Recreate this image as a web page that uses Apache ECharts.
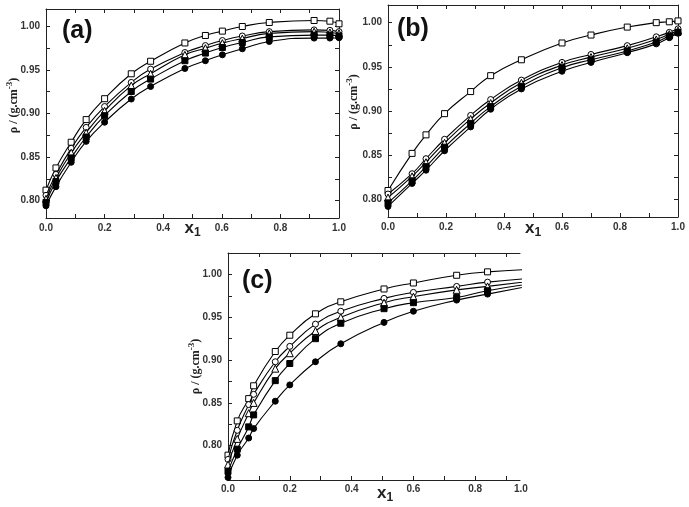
<!DOCTYPE html>
<html>
<head>
<meta charset="utf-8">
<script src="https://cdn.jsdelivr.net/npm/echarts@6/dist/echarts.min.js"></script>
<style>
html,body{margin:0;padding:0;background:#fff;}
#chart{width:689px;height:507px;}
</style>
</head>
<body>
<div id="chart"></div>
<script>
// ---------- data ----------
const xA = [0, 0.034, 0.086, 0.137, 0.2, 0.291, 0.357, 0.474, 0.544, 0.602, 0.67, 0.762, 0.915, 0.969, 1.0];
const aSq = [0.812, 0.8375, 0.867, 0.893, 0.917, 0.9456, 0.960, 0.981, 0.9896, 0.9946, 0.9999, 1.0045, 1.0068, 1.006, 1.003];
const aCi = [0.806, 0.830, 0.860, 0.884, 0.908, 0.9357, 0.951, 0.970, 0.978, 0.9838, 0.989, 0.994, 0.996, 0.9955, 0.994];
const aTr = [0.802, 0.826, 0.855, 0.878, 0.903, 0.932, 0.9456, 0.9674, 0.975, 0.9808, 0.986, 0.992, 0.994, 0.993, 0.992];
const aFs = [0.798, 0.822, 0.849, 0.873, 0.8975, 0.9253, 0.9395, 0.9606, 0.9694, 0.9758, 0.9815, 0.988, 0.990, 0.990, 0.989];
const aFc = [0.794, 0.816, 0.844, 0.868, 0.890, 0.9166, 0.931, 0.9517, 0.9606, 0.9674, 0.9743, 0.9827, 0.9866, 0.9866, 0.987];

const xB = [0, 0.083, 0.131, 0.195, 0.285, 0.354, 0.46, 0.6, 0.7, 0.825, 0.925, 0.97, 1.0];
const bSq = [0.810, 0.852, 0.873, 0.897, 0.922, 0.940, 0.958, 0.977, 0.986, 0.995, 1.000, 1.001, 1.002];
const bCi = [0.806, 0.829, 0.846, 0.868, 0.895, 0.913, 0.935, 0.955, 0.964, 0.974, 0.984, 0.989, 0.993];
const bTr = [0.802, 0.826, 0.842, 0.864, 0.891, 0.909, 0.932, 0.952, 0.961, 0.971, 0.981, 0.987, 0.991];
const bFs = [0.796, 0.821, 0.837, 0.859, 0.886, 0.905, 0.928, 0.949, 0.958, 0.968, 0.978, 0.985, 0.989];
const bFc = [0.792, 0.818, 0.833, 0.855, 0.882, 0.902, 0.925, 0.945, 0.955, 0.966, 0.976, 0.983, 0.988];

const xC = [0, 0.03, 0.067, 0.083, 0.153, 0.2, 0.283, 0.365, 0.505, 0.6, 0.74, 0.84, 1.0];
const cSq = [0.789, 0.829, 0.855, 0.870, 0.910, 0.929, 0.954, 0.968, 0.983, 0.990, 0.999, 1.003, 1.006];
const cCi = [0.784, 0.818, 0.848, 0.860, 0.898, 0.916, 0.942, 0.957, 0.972, 0.979, 0.986, 0.991, 0.996];
const cTr = [0.778, 0.808, 0.838, 0.850, 0.890, 0.908, 0.934, 0.950, 0.967, 0.974, 0.982, 0.986, 0.993];
const cFs = [0.770, 0.796, 0.822, 0.836, 0.876, 0.896, 0.925, 0.943, 0.960, 0.967, 0.973, 0.981, 0.990];
const cFc = [0.763, 0.789, 0.809, 0.820, 0.852, 0.871, 0.898, 0.919, 0.944, 0.957, 0.970, 0.977, 0.988];

const xTickLabels = [0, 0.2, 0.4, 0.6, 0.8, 1.0];
const yTickLabels = [0.80, 0.85, 0.90, 0.95, 1.00];

// ---------- styling helpers ----------
const markerDefs = [
  {symbol: 'rect', fill: '#fff'},
  {symbol: 'circle', fill: '#fff'},
  {symbol: 'triangle', fill: '#fff'},
  {symbol: 'rect', fill: '#000'},
  {symbol: 'circle', fill: '#000'}
];
const labelFont = {fontFamily: 'Liberation Sans, Arial, sans-serif', fontWeight: 'bold', fontSize: 10, color: '#333'};
const axisCol = '#222';

function yTicks(min, max) {
  const t = [];
  for (let v = Math.ceil(min / 0.025 - 1e-9) * 0.025; v <= max + 1e-9; v += 0.025) t.push(+v.toFixed(3));
  return t;
}
function xTicks(max) {
  const t = [];
  for (let i = 0; i <= 10; i++) { const v = i / 10; if (v <= max + 1e-9) t.push(v); }
  return t;
}

const grids = [], xAxes = [], yAxes = [], series = [];
function addPanel(idx, gridPos, xMax, yMin, yMax, xs, ys, opt) {
  grids.push(Object.assign({outerBoundsMode: 'none', containLabel: false}, gridPos));
  const gi = idx;
  const xt = xTicks(xMax);
  xAxes.push({
    gridIndex: gi, type: 'value', min: 0, max: xMax, position: 'bottom',
    axisLine: {show: true, onZero: false, lineStyle: {color: axisCol, width: 1}},
    axisTick: {show: true, inside: true, length: 4, customValues: xt, lineStyle: {color: axisCol}},
    axisLabel: Object.assign({show: true, margin: opt.xLabelMargin, customValues: xTickLabels.filter(v => v <= xMax + 1e-9), formatter: v => v.toFixed(1)}, labelFont),
    splitLine: {show: false},
    name: '{x|x}{s|1}', nameLocation: 'middle', nameGap: opt.xNameGap, nameMoveOverlap: false,
    nameTextStyle: {padding: opt.xNamePad, rich: {
      x: {fontFamily: 'Liberation Sans, Arial', fontWeight: 'bold', fontSize: 17, color: '#222'},
      s: {fontFamily: 'Liberation Sans, Arial', fontWeight: 'bold', fontSize: 12, color: '#222', padding: [10, 0, 0, 0]}
    }}
  });
  xAxes.push({
    gridIndex: gi, type: 'value', min: 0, max: xMax, position: 'top',
    axisLine: {show: true, onZero: false, lineStyle: {color: axisCol, width: 1}},
    axisTick: {show: true, inside: true, length: 4, customValues: xt, lineStyle: {color: axisCol}},
    axisLabel: {show: false}, splitLine: {show: false}
  });
  const yt = yTicks(yMin, yMax);
  yAxes.push({
    gridIndex: gi, type: 'value', min: yMin, max: yMax, position: 'left',
    axisLine: {show: true, onZero: false, lineStyle: {color: axisCol, width: 1}},
    axisTick: {show: true, inside: true, length: 4, customValues: yt, lineStyle: {color: axisCol}},
    axisLabel: Object.assign({show: true, margin: 6, customValues: yTickLabels, formatter: v => v.toFixed(2)}, labelFont),
    splitLine: {show: false},
    name: '{a|ρ / (g.cm}{s|-3}{a|)}', nameLocation: 'middle', nameRotate: 90, nameGap: opt.yNameGap, nameMoveOverlap: false,
    nameTextStyle: {padding: opt.yNamePad, rich: {
      a: {fontFamily: 'Liberation Serif, Times New Roman, serif', fontWeight: 'bold', fontSize: 12, color: '#222'},
      s: {fontFamily: 'Liberation Serif, Times New Roman, serif', fontWeight: 'bold', fontSize: 9, color: '#222', padding: [0, 0, 8, 0]}
    }}
  });
  yAxes.push({
    gridIndex: gi, type: 'value', min: yMin, max: yMax, position: 'right', show: opt.rightAxis,
    axisLine: {show: true, onZero: false, lineStyle: {color: axisCol, width: 1}},
    axisTick: {show: true, inside: true, length: 4, customValues: yt, lineStyle: {color: axisCol}},
    axisLabel: {show: false}, splitLine: {show: false}
  });
  ys.forEach((arr, k) => {
    const m = markerDefs[k];
    series.push({
      type: 'line', xAxisIndex: gi * 2, yAxisIndex: gi * 2, clip: true,
      smooth: 0.5,
      data: xs.map((x, i) => (x > xMax + 1e-9) ? {value: [x, arr[i]], symbol: 'none'} : [x, arr[i]]),
      symbol: m.symbol, symbolSize: m.symbol === 'triangle' ? 7 : 6,
      lineStyle: {color: '#000', width: 1.1},
      itemStyle: {color: m.fill, borderColor: '#000', borderWidth: 1},
      z: 3 + k, silent: true, animation: false
    });
  });
}

addPanel(0, {left: 46, top: 9, width: 293, height: 209}, 1.0, 0.78, 1.02,
  xA, [aSq, aCi, aTr, aFs, aFc], {xNameGap: -1, xNamePad: [0, 0, 0, 0], yNameGap: 24, yNamePad: [0, 0, 0, 16], rightAxis: true, xLabelMargin: 5});
addPanel(1, {left: 388, top: 5, width: 290, height: 212}, 1.0, 0.78, 1.02,
  xB, [bSq, bCi, bTr, bFs, bFc], {xNameGap: 0, xNamePad: [0, 0, 0, 0], yNameGap: 26, yNamePad: [0, 0, 0, 18], rightAxis: true, xLabelMargin: 5});
addPanel(2, {left: 228, top: 253, width: 292, height: 227}, 0.945, 0.76, 1.025,
  xC, [cSq, cCi, cTr, cFs, cFc], {xNameGap: 2, xNamePad: [0, 0, 0, 22], yNameGap: 24, yNamePad: [0, 0, 0, 0], rightAxis: false, xLabelMargin: 4});

const panelFont = {fontFamily: 'Liberation Sans, Arial, sans-serif', fontWeight: 'bold', fontSize: 25, fill: '#111'};
const option = {
  animation: false,
  backgroundColor: '#fff',
  grid: grids,
  xAxis: xAxes,
  yAxis: yAxes,
  series: series,
  graphic: [
    {type: 'text', left: 62, top: 19, style: Object.assign({text: '(a)'}, panelFont)},
    {type: 'text', left: 397, top: 17, style: Object.assign({text: '(b)'}, panelFont)},
    {type: 'text', left: 242, top: 269, style: Object.assign({text: '(c)'}, panelFont)},
    {type: 'text', left: 514, top: 484, style: {text: '1.0', fontFamily: 'Liberation Sans, Arial, sans-serif', fontWeight: 'bold', fontSize: 10, fill: '#333'}}
  ]
};
const chart = echarts.init(document.getElementById('chart'), null, {renderer: 'canvas'});
chart.setOption(option);
</script>
</body>
</html>
